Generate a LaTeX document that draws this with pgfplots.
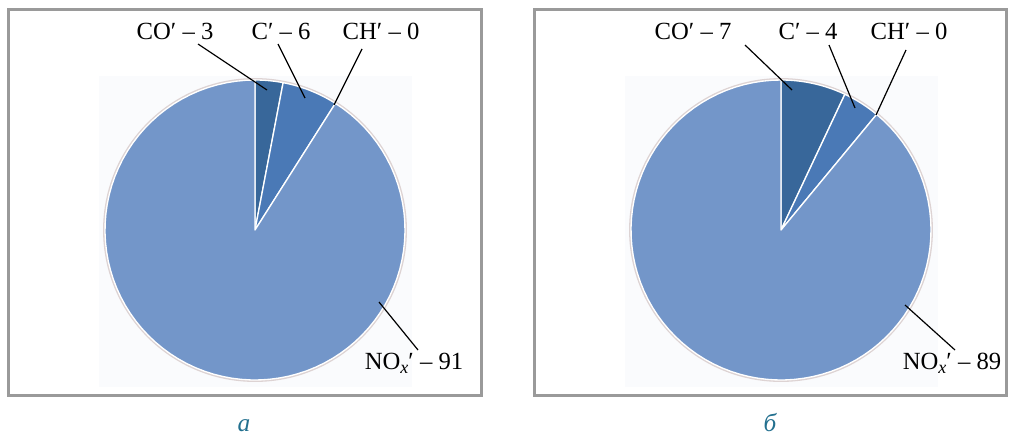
\documentclass[border=0pt]{standalone}
\usepackage{pgfplots}
\pgfplotsset{compat=1.18}
\usepackage{fontspec}
\setmainfont{Liberation Serif}
\definecolor{cCO}{HTML}{38679A}
\definecolor{cC}{HTML}{4A79B6}
\definecolor{cNO}{HTML}{7396C9}
\definecolor{framec}{HTML}{9A9A9A}
\definecolor{lbl}{HTML}{23708F}
\definecolor{bgc}{HTML}{FAFBFD}
\definecolor{rim}{HTML}{DDD3D3}

% data (percent)
\def\aCO{3}\def\aC{6}\def\aCH{0}\def\aNO{91}
\def\bCO{7}\def\bC{4}\def\bCH{0}\def\bNO{89}

% wedge: centre x, centre y, from (cumulative %), to (cumulative %), colour
\newcommand\slice[5]{%
 \pgfmathsetmacro\angA{90-3.6*(#4)}%
 \pgfmathsetmacro\angB{90-3.6*(#3)}%
 \edef\doslice{\noexpand\addplot[fill=#5, draw=white, line width=1pt, line join=round, domain=\angA:\angB, samples=91, forget plot] ({#1+150*cos(x)},{#2-150*sin(x)}) -- (axis cs:#1,#2) -- cycle;}%
 \doslice}

\tikzset{lab/.style={font=\fontsize{18.5}{20}\selectfont, anchor=base, inner sep=0pt},
  lead/.style={black, line width=0.9pt}}

\begin{document}
\begin{tikzpicture}
\begin{axis}[x=0.75pt,y=0.75pt,xmin=0,xmax=1019,ymin=0,ymax=435,
  y dir=reverse, hide axis, clip=false]
\coordinate (TL) at (axis cs:0,0);
\coordinate (BR) at (axis cs:1019,435);
% frames
\draw[framec, line width=2.25pt] (axis cs:8,10) rectangle (axis cs:481,395);
\draw[framec, line width=2.25pt] (axis cs:534,10) rectangle (axis cs:1006,395);
% plot areas
\fill[bgc] (axis cs:99,76) rectangle (axis cs:412,387);
\fill[bgc] (axis cs:625,76) rectangle (axis cs:938,387);
% rims
\draw[rim, line width=1.4pt] (axis cs:255,230) circle [radius=151];
\draw[rim, line width=1.4pt] (axis cs:781,230) circle [radius=151];
% pie a
\slice{255}{230}{0}{\aCO}{cCO}
\slice{255}{230}{\aCO}{\aCO+\aC}{cC}
\slice{255}{230}{\aCO+\aC+\aCH}{\aCO+\aC+\aCH+\aNO}{cNO}
% pie b
\slice{781}{230}{0}{\bCO}{cCO}
\slice{781}{230}{\bCO}{\bCO+\bC}{cC}
\slice{781}{230}{\bCO+\bC+\bCH}{\bCO+\bC+\bCH+\bNO}{cNO}
% leaders a
\draw[lead] (axis cs:198,44) -- (axis cs:267,90);
\draw[lead] (axis cs:278,44) -- (axis cs:305,98);
\draw[lead] (axis cs:362,49) -- (axis cs:334,105);
\draw[lead] (axis cs:379,302) -- (axis cs:418,350);
% leaders b
\draw[lead] (axis cs:745,45) -- (axis cs:792,90);
\draw[lead] (axis cs:829,45) -- (axis cs:855,108);
\draw[lead] (axis cs:906,50) -- (axis cs:876,115);
\draw[lead] (axis cs:905,305) -- (axis cs:955,350);
% labels a
\node[lab] at (axis cs:175,40) {CO′ – 3};
\node[lab] at (axis cs:281,40) {C′ – 6};
\node[lab] at (axis cs:381,40) {CH′ – 0};
\node[lab] at (axis cs:414,369) {NO\raisebox{-0.4ex}{\fontsize{13.5}{13}\selectfont\itshape x}′ – 91};
% labels b
\node[lab] at (axis cs:693,40) {CO′ – 7};
\node[lab] at (axis cs:808,40) {C′ – 4};
\node[lab] at (axis cs:909,40) {CH′ – 0};
\node[lab] at (axis cs:952,369) {NO\raisebox{-0.4ex}{\fontsize{13.5}{13}\selectfont\itshape x}′ – 89};
% panel letters
\node[lab, text=lbl, font=\fontsize{19}{20}\selectfont\itshape] at (axis cs:244,431) {а};
\node[lab, text=lbl, font=\fontsize{19}{20}\selectfont\itshape] at (axis cs:770,431) {б};
\end{axis}
\pgfresetboundingbox
\path (TL) rectangle (BR);
\end{tikzpicture}
\end{document}
